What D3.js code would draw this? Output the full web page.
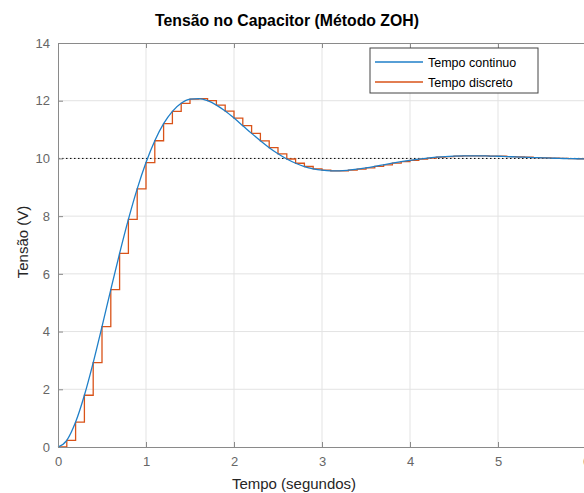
<!DOCTYPE html>
<html>
<head>
<meta charset="utf-8">
<script src="https://cdn.jsdelivr.net/npm/d3@7"></script>
<style>
  body { margin: 0; background: #fff; }
  svg { display: block; font-family: "Liberation Sans", Arial, sans-serif; }
</style>
</head>
<body>
<div id="chart"></div>
<script>
// sample instants (s), period 0.1
const tempo = d3.range(0, 61).map(i => +(i * 0.1).toFixed(1));

// capacitor voltage at each sample instant (V)
const tensao = [
    0.000, 0.233, 0.865, 1.794, 2.926, 4.171, 5.454, 6.709, 7.886, 8.944,
    9.858, 10.613, 11.204, 11.633, 11.910, 12.052, 12.074, 12.000, 11.848, 11.641,
    11.397, 11.134, 10.868, 10.611, 10.372, 10.161, 9.980, 9.833, 9.720, 9.641,
    9.592, 9.570, 9.571, 9.592, 9.627, 9.673, 9.725, 9.780, 9.836, 9.888,
    9.936, 9.978, 10.014, 10.042, 10.064, 10.078, 10.087, 10.090, 10.088, 10.083,
    10.075, 10.065, 10.054, 10.042, 10.031, 10.020, 10.010, 10.002, 9.994, 9.989,
    9.986
];

const referencia = 10;
const xTicks = [0, 1, 2, 3, 4, 5, 6];
const yTicks = [0, 2, 4, 6, 8, 10, 12, 14];
const series = ["Tempo continuo", "Tempo discreto"];
const cores = ["#1f7fc8", "#D95319"];

const data = tempo.map((t, i) => ({t: t, v: tensao[i]}));

const margin = {top: 43, right: 0, bottom: 46, left: 58},
    width = 528,
    height = 404;

const svg = d3.select("#chart")
    .append("svg")
    .attr("width", 584)
    .attr("height", 493);

const chart = svg.append("g")
    .attr("transform", `translate(${margin.left},${margin.top})`);

const x = d3.scaleLinear().domain([0, 6]).range([0, width]);
const y = d3.scaleLinear().domain([0, 14]).range([height, 0]);

// grid
chart.append("g")
    .selectAll("line.vg")
    .data(xTicks.slice(1))
    .enter().append("line")
    .attr("x1", d => x(d)).attr("x2", d => x(d))
    .attr("y1", 0).attr("y2", height)
    .attr("stroke", "#e3e3e3")
    .attr("stroke-width", 1);

chart.append("g")
    .selectAll("line.hg")
    .data(yTicks.slice(1, -1))
    .enter().append("line")
    .attr("x1", 0).attr("x2", width)
    .attr("y1", d => y(d)).attr("y2", d => y(d))
    .attr("stroke", "#e3e3e3")
    .attr("stroke-width", 1);

// reference line at 10 V
chart.append("line")
    .attr("x1", 0).attr("x2", width)
    .attr("y1", y(referencia)).attr("y2", y(referencia))
    .attr("stroke", "#000")
    .attr("stroke-width", 1)
    .attr("stroke-dasharray", "1.5,2.5");

// discrete (ZOH) staircase
chart.append("path")
    .datum(data)
    .attr("fill", "none")
    .attr("stroke", cores[1])
    .attr("stroke-width", 1.3)
    .attr("d", d3.line().x(d => x(d.t)).y(d => y(d.v)).curve(d3.curveStepAfter));

// continuous response
chart.append("path")
    .datum(data)
    .attr("fill", "none")
    .attr("stroke", cores[0])
    .attr("stroke-width", 1.3)
    .attr("d", d3.line().x(d => x(d.t)).y(d => y(d.v)).curve(d3.curveMonotoneX));

// axes (ticks inward, box on)
const axisColor = "#8a8a8a";
const styleAxis = g => {
    g.select(".domain").attr("stroke", axisColor);
    g.selectAll(".tick line").attr("stroke", axisColor);
    g.selectAll(".tick text")
        .attr("fill", "#666")
        .style("font-size", "13px")
        .style("font-family", "Liberation Sans, Arial, sans-serif");
};

chart.append("g")
    .attr("transform", `translate(0,${height})`)
    .call(d3.axisBottom(x).tickValues(xTicks).tickFormat(d3.format("d"))
        .tickSizeInner(-5).tickSizeOuter(0).tickPadding(10))
    .call(styleAxis);

chart.append("g")
    .call(d3.axisTop(x).tickValues(xTicks).tickFormat("")
        .tickSizeInner(-5).tickSizeOuter(0))
    .call(styleAxis);

chart.append("g")
    .call(d3.axisLeft(y).tickValues(yTicks).tickFormat(d3.format("d"))
        .tickSizeInner(-5).tickSizeOuter(0).tickPadding(8))
    .call(styleAxis);

// title
svg.append("text")
    .attr("x", 287)
    .attr("y", 26)
    .attr("text-anchor", "middle")
    .style("font-size", "15.8px")
    .style("font-weight", "bold")
    .attr("fill", "#000")
    .text("Tensão no Capacitor (Método ZOH)");

// axis labels
svg.append("text")
    .attr("x", 294)
    .attr("y", 489)
    .attr("text-anchor", "middle")
    .style("font-size", "15px")
    .attr("fill", "#262626")
    .text("Tempo (segundos)");

svg.append("text")
    .attr("transform", `translate(28,${margin.top + height / 2 - 3}) rotate(-90)`)
    .attr("text-anchor", "middle")
    .style("font-size", "15px")
    .attr("fill", "#262626")
    .text("Tensão (V)");

// legend
const legend = svg.append("g").attr("transform", "translate(370,48)");
legend.append("rect")
    .attr("width", 168).attr("height", 45)
    .attr("fill", "#fff")
    .attr("stroke", "#444")
    .attr("stroke-width", 1);

series.forEach((s, i) => {
    const ly = 14 + i * 20;
    legend.append("line")
        .attr("x1", 5).attr("x2", 53)
        .attr("y1", ly).attr("y2", ly)
        .attr("stroke", cores[i])
        .attr("stroke-width", 1.3);
    legend.append("text")
        .attr("x", 58)
        .attr("y", ly + 4.5)
        .style("font-size", "12.5px")
        .attr("fill", "#000")
        .text(s);
});
</script>
</body>
</html>
